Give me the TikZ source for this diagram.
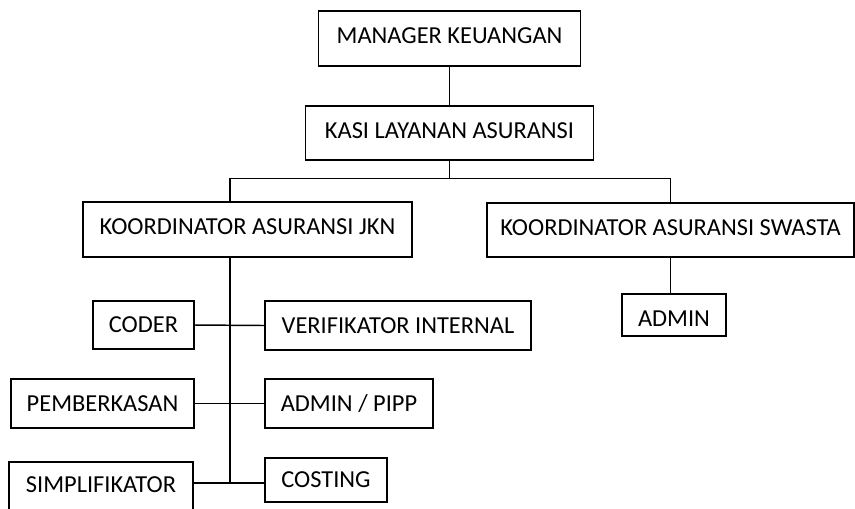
\documentclass[tikz,border=0pt]{standalone}
\usepackage{fontspec}
\setmainfont{Carlito}

\begin{document}
\begin{tikzpicture}[x=0.75pt, y=-0.75pt]
    \tikzset{
        box/.style={draw, line width=1.1pt, inner sep=0pt, text depth=0pt,
            font=\fontsize{18.3}{20}\selectfont},
        raise/.style={text depth=#1},
        link/.style={line width=1.1pt},
    }
    \useasboundingbox (0,0) rectangle (855,508);
    \clip (0,0) rectangle (855,508);
    % top of the chart
    \node [box, raise=5pt, minimum width=196.5pt, minimum height=41.25pt] (mgr) at (449.5,38.5) {MANAGER KEUANGAN};
    \node [box, raise=3.75pt, minimum width=216pt, minimum height=40.5pt] (kasi) at (449.5,133) {KASI LAYANAN ASURANSI};
    \node [box, raise=4.8pt, minimum width=246.75pt, minimum height=41.25pt] (kjkn) at (247.5,229.5) {KOORDINATOR ASURANSI JKN};
    \node [box, raise=3.75pt, minimum width=275.25pt, minimum height=40.5pt] (kswasta) at (670.5,230) {KOORDINATOR ASURANSI SWASTA};
    \node [box, text height=17.5pt, minimum width=78pt, minimum height=31.5pt] (admin) at (674,315) {ADMIN};
    % staff under JKN
    \node [box, minimum width=75.75pt, minimum height=36pt] (coder) at (143.5,325) {CODER};
    \node [box, minimum width=199.5pt, minimum height=36.75pt] (verif) at (398,325.5) {VERIFIKATOR INTERNAL};
    \node [box, minimum width=137.25pt, minimum height=36.75pt] (pemb) at (102.5,403.5) {PEMBERKASAN};
    \node [box, minimum width=126pt, minimum height=36.75pt] (pipp) at (349,403.5) {ADMIN / PIPP};
    \node [box, raise=2pt, minimum width=138pt, minimum height=36pt] (simp) at (101,486) {SIMPLIFIKATOR};
    \node [box, minimum width=91.5pt, minimum height=33pt] (costing) at (326,480) {COSTING};
    \coordinate (trunk) at (230,483);
    % connectors
    \draw [link] (mgr) -- (kasi);
    \draw [link] (kasi.south) -- ++(0,18) -| (kjkn.north -| trunk);
    \draw [link] (kasi.south) ++(0,18) -| (kswasta.north);
    \draw [link] (kjkn.south -| trunk) -- (trunk);
    \draw [link] (kswasta.south) -- (kswasta.south |- admin.north);
    \draw [link] (coder.east) -- (verif.west);
    \draw [link] (pemb.east) -- (pipp.west);
    \draw [link] (simp.east |- trunk) -- (costing.west |- trunk);
\end{tikzpicture}
\end{document}
